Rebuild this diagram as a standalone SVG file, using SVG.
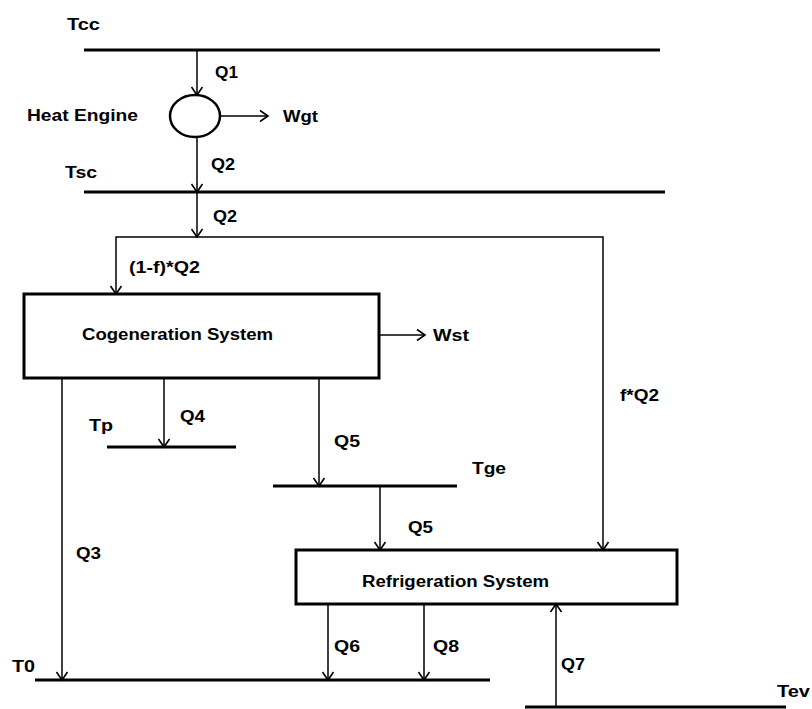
<svg xmlns="http://www.w3.org/2000/svg" width="812" height="709" viewBox="0 0 812 709">
<style>
text{font-family:"Liberation Sans",Arial,sans-serif;font-weight:bold;font-size:16px;fill:#000}
.lvl{stroke:#000;stroke-width:3;fill:none}
.box{stroke:#000;stroke-width:3;fill:#fff}
.c{stroke:#000;stroke-width:1.5;fill:none}
.a{marker-end:url(#ah)}
</style>
<defs>
<marker id="ah" markerUnits="userSpaceOnUse" markerWidth="14" markerHeight="14" viewBox="0 0 14 14" refX="10" refY="7" orient="auto">
<path d="M2,1.5 L10,7 L2,12.5" fill="none" stroke="#000" stroke-width="1.6"/>
</marker>
</defs>
<rect width="812" height="709" fill="#fff"/>

<g id="connectors">
<line class="c a" x1="197" y1="50" x2="197" y2="95"/>
<line class="c a" x1="220" y1="116" x2="268" y2="116"/>
<line class="c a" x1="197" y1="137" x2="197" y2="192"/>
<line class="c a" x1="197" y1="192" x2="197" y2="237"/>
<polyline class="c a" points="197,237 116,237 116,294"/>
<polyline class="c a" points="197,237 603,237 603,550"/>
<line class="c a" x1="379" y1="335" x2="425" y2="335"/>
<line class="c a" x1="62" y1="378" x2="62" y2="680"/>
<line class="c a" x1="164" y1="378" x2="164" y2="447"/>
<line class="c a" x1="319" y1="378" x2="319" y2="486"/>
<line class="c a" x1="380" y1="486" x2="380" y2="550"/>
<line class="c a" x1="328" y1="604" x2="328" y2="680"/>
<line class="c a" x1="424" y1="604" x2="424" y2="680"/>
<line class="c a" x1="556" y1="707" x2="556" y2="604"/>
</g>

<g id="Tcc">
<line class="lvl" x1="84" y1="50" x2="660" y2="50"/>
<text x="67" y="30" textLength="33" lengthAdjust="spacingAndGlyphs">Tcc</text>
</g>
<g id="heat-engine">
<ellipse cx="195" cy="116" rx="25" ry="21" fill="#fff" stroke="#000" stroke-width="2.5"/>
<text x="27" y="121" textLength="111" lengthAdjust="spacingAndGlyphs">Heat Engine</text>
</g>
<g id="Tsc">
<line class="lvl" x1="84" y1="192" x2="665" y2="192"/>
<text x="65" y="178" textLength="32" lengthAdjust="spacingAndGlyphs">Tsc</text>
</g>
<g id="cogeneration">
<rect class="box" x="24" y="294" width="355" height="84"/>
<text x="82" y="340" textLength="191" lengthAdjust="spacingAndGlyphs">Cogeneration System</text>
</g>
<g id="Tp">
<line class="lvl" x1="107" y1="447" x2="236" y2="447"/>
<text x="89" y="431" textLength="24" lengthAdjust="spacingAndGlyphs">Tp</text>
</g>
<g id="Tge">
<line class="lvl" x1="273" y1="486" x2="457" y2="486"/>
<text x="472" y="474" textLength="34" lengthAdjust="spacingAndGlyphs">Tge</text>
</g>
<g id="refrigeration">
<rect class="box" x="296" y="550" width="381" height="54"/>
<text x="362" y="587" textLength="187" lengthAdjust="spacingAndGlyphs">Refrigeration System</text>
</g>
<g id="T0">
<line class="lvl" x1="35" y1="680" x2="490" y2="680"/>
<text x="12" y="672" textLength="23" lengthAdjust="spacingAndGlyphs">T0</text>
</g>
<g id="Tev">
<line class="lvl" x1="525" y1="707" x2="786" y2="707"/>
<text x="777" y="697" textLength="33" lengthAdjust="spacingAndGlyphs">Tev</text>
</g>

<g id="labels">
<text x="215" y="78" textLength="23" lengthAdjust="spacingAndGlyphs">Q1</text>
<text x="283" y="122" textLength="35" lengthAdjust="spacingAndGlyphs">Wgt</text>
<text x="211" y="170" textLength="24" lengthAdjust="spacingAndGlyphs">Q2</text>
<text x="213" y="222" textLength="24" lengthAdjust="spacingAndGlyphs">Q2</text>
<text x="129" y="273" textLength="71" lengthAdjust="spacingAndGlyphs">(1-f)*Q2</text>
<text x="433" y="341" textLength="36" lengthAdjust="spacingAndGlyphs">Wst</text>
<text x="620" y="401" textLength="39" lengthAdjust="spacingAndGlyphs">f*Q2</text>
<text x="180" y="422" textLength="25" lengthAdjust="spacingAndGlyphs">Q4</text>
<text x="334" y="447" textLength="26" lengthAdjust="spacingAndGlyphs">Q5</text>
<text x="408" y="533" textLength="25" lengthAdjust="spacingAndGlyphs">Q5</text>
<text x="76" y="559" textLength="25" lengthAdjust="spacingAndGlyphs">Q3</text>
<text x="334" y="652" textLength="26" lengthAdjust="spacingAndGlyphs">Q6</text>
<text x="433" y="652" textLength="26" lengthAdjust="spacingAndGlyphs">Q8</text>
<text x="561" y="670" textLength="24" lengthAdjust="spacingAndGlyphs">Q7</text>
</g>
</svg>
